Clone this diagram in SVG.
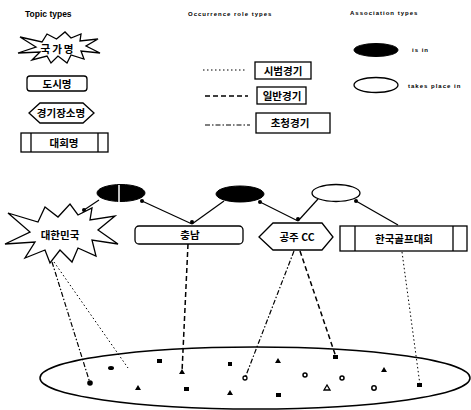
<svg xmlns="http://www.w3.org/2000/svg" width="471" height="410" viewBox="0 0 471 410">
<style>
.bg{fill:#fff}
.shape{fill:#fff;stroke:#000;stroke-width:1.3}
.blk{fill:#000;stroke:#000;stroke-width:1}
.hdr{font-family:"Liberation Sans",Arial,sans-serif;font-weight:bold;fill:#000}
.ko{font-family:"Noto Sans CJK KR","Noto Sans",sans-serif;font-weight:bold;font-size:10.5px;fill:#000;text-anchor:middle}
.sm{font-family:"Liberation Sans",Arial,sans-serif;font-weight:bold;font-size:6px;letter-spacing:1px;fill:#000}
.assoc{stroke:#000;stroke-width:1.2;fill:none}
.dot{stroke:#000;stroke-width:1;fill:none;stroke-dasharray:1.5 2.5}
.dash{stroke:#000;stroke-width:1.5;fill:none;stroke-dasharray:5 3}
.dashdot{stroke:#000;stroke-width:1.2;fill:none;stroke-dasharray:5 2 1.5 2}
.mk{fill:#000}
</style>
<rect class="bg" x="0" y="0" width="471" height="410"/>

<!-- Legend headers -->
<text class="hdr" x="25" y="17" font-size="8.5">Topic types</text>
<text class="sm" x="188" y="16" font-size="5.5">Occurrence role types</text>
<text class="sm" x="350" y="15" font-size="5.5">Association types</text>

<!-- Topic type legend -->
<g id="legend-country">
<polygon class="shape" points="20,37 42,42 47,34 56.5,39 65,32 71,38 81,34 80,41 98,39 86,46 100,53 81,51 84,59 71,55 67,63 58,56 51,63 47,56 32,60 40,52 18,53 36,47"/>
<text class="ko" x="58" y="53" font-size="13" letter-spacing="2">국가명</text>
</g>
<g id="legend-city">
<rect class="shape" x="27" y="76" width="60" height="15" rx="3"/>
<text class="ko" x="57" y="88">도시명</text>
</g>
<g id="legend-venue">
<polygon class="shape" points="29,113 40,103 83,103 94,113 83,123 40,123"/>
<text class="ko" x="61" y="117">경기장소명</text>
</g>
<g id="legend-event">
<rect class="shape" x="21" y="133" width="87" height="19"/>
<line class="shape" x1="31" y1="133" x2="31" y2="152"/>
<line class="shape" x1="98" y1="133" x2="98" y2="152"/>
<text class="ko" x="64" y="147">대회명</text>
</g>

<!-- Occurrence role legend -->
<g id="legend-occ1">
<line class="dot" x1="203" y1="70" x2="247" y2="70"/>
<rect class="shape" x="255" y="62" width="56" height="17"/>
<text class="ko" x="283" y="75">시범경기</text>
</g>
<g id="legend-occ2">
<line class="dash" x1="205" y1="96" x2="248" y2="96"/>
<rect class="shape" x="257" y="87" width="49" height="17"/>
<text class="ko" x="282" y="100">일반경기</text>
</g>
<g id="legend-occ3">
<line class="dashdot" x1="205" y1="125" x2="250" y2="125"/>
<rect class="shape" x="256" y="113" width="74" height="20"/>
<text class="ko" x="290" y="127">초청경기</text>
</g>

<!-- Association legend -->
<g id="legend-isin">
<ellipse class="blk" cx="376" cy="50" rx="22" ry="6.5"/>
<text class="sm" x="412" y="52">is in</text>
</g>
<g id="legend-takesplace">
<ellipse class="shape" cx="376" cy="85" rx="22" ry="7.5"/>
<text class="sm" x="408" y="88">takes place in</text>
</g>

<!-- Connectors -->
<g id="connectors">
<line class="assoc" x1="84" y1="210" x2="99" y2="200"/>
<line class="assoc" x1="142" y1="201" x2="192" y2="224"/>
<line class="assoc" x1="224" y1="201" x2="192" y2="224"/>
<line class="assoc" x1="260" y1="202" x2="298" y2="221"/>
<line class="assoc" x1="318" y1="199" x2="298" y2="221"/>
<line class="assoc" x1="356" y1="201" x2="398" y2="225"/>
<circle class="mk" cx="84" cy="210" r="2"/>
<circle class="mk" cx="142" cy="201" r="2"/>
<circle class="mk" cx="192" cy="222" r="2"/>
<circle class="mk" cx="260" cy="202" r="2"/>
<circle class="mk" cx="298" cy="219" r="2"/>
<circle class="mk" cx="356" cy="201" r="2"/>

<line class="dashdot" x1="52" y1="262" x2="90" y2="383"/>
<line class="dot" x1="54" y1="262" x2="128" y2="368"/>
<line class="dash" x1="188" y1="244" x2="182" y2="372"/>
<line class="dashdot" x1="294" y1="251" x2="245" y2="378"/>
<line class="dash" x1="300" y1="251" x2="336" y2="357"/>
<line class="dot" x1="402" y1="252" x2="420" y2="385"/>
</g>

<!-- Association nodes -->
<g id="assoc-isin-1">
<ellipse class="blk" cx="121" cy="193" rx="24" ry="8.5"/>
<line x1="119" y1="185" x2="119" y2="202" stroke="#fff" stroke-width="1.5"/>
</g>
<g id="assoc-isin-2">
<ellipse class="blk" cx="240" cy="194" rx="24" ry="8"/>
</g>
<g id="assoc-takesplace">
<ellipse class="shape" cx="336" cy="193" rx="24" ry="8.5"/>
</g>

<!-- Topic nodes -->
<g id="node-korea">
<polygon class="shape" points="8,213 38,222 45,207 58,217 70,204 78,215 92,208 90,220 115,216 98,230 118,244 92,240 96,256 78,248 72,262 60,250 50,263 45,250 25,258 35,242 5,244 30,232"/>
<text class="ko" x="60" y="239">대한민국</text>
</g>
<g id="node-chungnam">
<rect class="shape" x="135" y="226" width="108" height="18" rx="4"/>
<text class="ko" x="190" y="239">충남</text>
</g>
<g id="node-gongjucc">
<polygon class="shape" points="259,237 273,223 322,223 333,237 322,250 273,250"/>
<text class="ko" x="297" y="241">공주 CC</text>
</g>
<g id="node-golf">
<rect class="shape" x="340" y="226" width="127" height="25"/>
<line class="shape" x1="355" y1="226" x2="355" y2="251"/>
<line class="shape" x1="453" y1="226" x2="453" y2="251"/>
<text class="ko" x="404" y="243">한국골프대회</text>
</g>

<!-- Resource pool -->
<g id="resources">
<ellipse cx="255" cy="378" rx="215" ry="31" fill="none" stroke="#000" stroke-width="1.5"/>
<circle class="mk" cx="90" cy="383" r="2.8"/>
<ellipse class="mk" cx="111" cy="368" rx="3" ry="2"/>
<rect class="mk" x="157" y="359" width="5" height="4"/>
<polygon class="mk" points="182,369 179,374 185,374"/>
<polygon class="mk" points="138,385 135,390 141,390"/>
<rect class="mk" x="184" y="387" width="5" height="4"/>
<rect class="mk" x="228" y="362" width="4" height="4"/>
<polygon class="mk" points="230,390 227,395 233,395"/>
<polygon class="mk" points="278,358 275,363 281,363"/>
<rect class="mk" x="333" y="355" width="5" height="4"/>
<circle cx="245" cy="378" r="2" fill="none" stroke="#000" stroke-width="1.3"/>
<circle cx="305" cy="375" r="2" fill="none" stroke="#000" stroke-width="1.5"/>
<circle cx="342" cy="378" r="2" fill="none" stroke="#000" stroke-width="1.5"/>
<polygon class="mk" points="384,367 381,372 387,372"/>
<polygon points="327,385 324,390 330,390" fill="none" stroke="#000" stroke-width="1.3"/>
<circle cx="374" cy="388" r="2.2" fill="none" stroke="#000" stroke-width="1.5"/>
<rect class="mk" x="276" y="393" width="5" height="4"/>
<rect class="mk" x="417" y="383" width="5" height="4"/>
</g>
</svg>
